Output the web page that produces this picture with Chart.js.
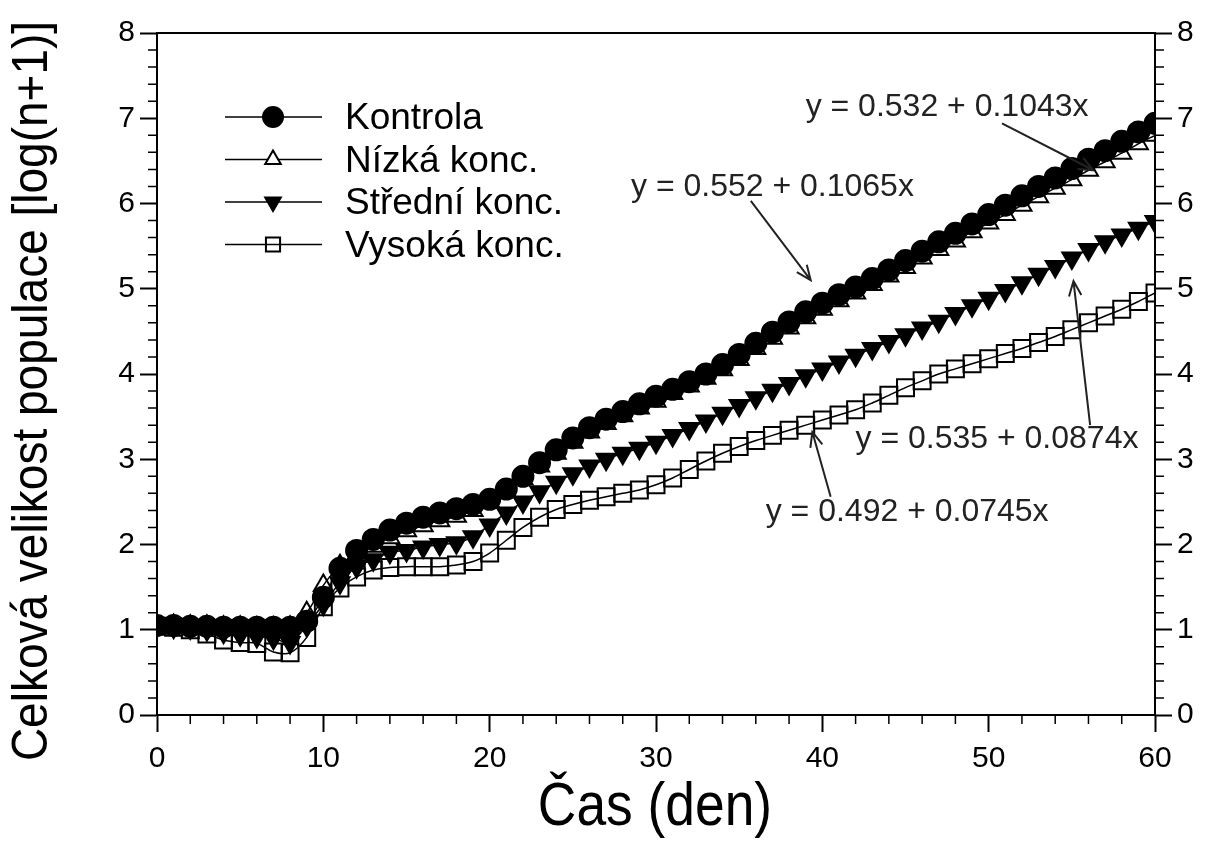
<!DOCTYPE html>
<html>
<head>
<meta charset="utf-8">
<script src="https://cdn.jsdelivr.net/npm/chart.js@4"></script>
<style>
  body { margin: 0; background: #fff; }
  #wrap { width: 1211px; height: 850px; position: relative; }
</style>
</head>
<body>
<div id="wrap"><canvas id="popChart"></canvas></div>
<script>
const days = [0,1,2,3,4,5,6,7,8,9,10,11,12,13,14,15,16,17,18,19,20,21,22,23,24,25,26,27,28,29,30,
  31,32,33,34,35,36,37,38,39,40,41,42,43,44,45,46,47,48,49,50,51,52,53,54,55,56,57,58,59,60];

const kontrola = [1.05,1.05,1.04,1.04,1.03,1.03,1.03,1.03,1.03,
  1.10,1.38,1.72,1.93,2.06,2.17,2.25,2.32,2.37,2.42,2.47,2.53,
  2.65,2.80,2.96,3.11,3.25,3.37,3.47,3.56,3.65,3.74,
  3.82,3.91,4.00,4.11,4.23,4.36,4.49,4.61,4.73,4.83,
  4.93,5.02,5.12,5.22,5.33,5.44,5.55,5.65,5.76,5.87,
  5.98,6.09,6.20,6.30,6.41,6.52,6.62,6.73,6.84,6.94];
const nizka = [1.05,1.05,1.04,1.04,1.03,1.03,1.02,1.02,1.03,
  1.20,1.52,1.75,1.88,1.98,2.08,2.16,2.22,2.28,2.33,2.40,2.50,
  2.62,2.77,2.92,3.07,3.20,3.32,3.42,3.51,3.60,3.68,
  3.77,3.86,3.95,4.05,4.17,4.30,4.42,4.54,4.66,4.76,
  4.86,4.95,5.05,5.15,5.25,5.36,5.46,5.56,5.67,5.77,
  5.87,5.98,6.08,6.18,6.28,6.39,6.49,6.59,6.70,6.80];
const stredni = [1.04,1.03,1.02,1.00,0.97,0.94,0.92,0.90,0.85,
  1.05,1.30,1.55,1.74,1.82,1.91,1.93,1.97,2.00,2.02,2.09,2.23,
  2.37,2.50,2.62,2.73,2.83,2.92,3.00,3.07,3.13,3.20,
  3.28,3.36,3.45,3.54,3.63,3.72,3.81,3.89,3.98,4.06,
  4.14,4.22,4.30,4.38,4.46,4.54,4.62,4.71,4.80,4.89,
  4.98,5.07,5.17,5.26,5.36,5.46,5.55,5.63,5.71,5.79];
const vysoka = [1.04,1.03,1.00,0.95,0.88,0.85,0.84,0.74,0.73,
  0.91,1.27,1.49,1.62,1.70,1.73,1.74,1.74,1.74,1.76,1.80,1.90,
  2.05,2.20,2.32,2.41,2.47,2.52,2.56,2.60,2.64,2.70,
  2.78,2.88,2.98,3.07,3.15,3.22,3.28,3.34,3.40,3.46,
  3.52,3.58,3.66,3.75,3.84,3.92,4.00,4.06,4.12,4.18,
  4.24,4.30,4.37,4.44,4.52,4.60,4.68,4.76,4.85,4.95];

const seriesNames = ['Kontrola', 'Nízká konc.', 'Střední konc.', 'Vysoká konc.'];
const xTicks = [0, 10, 20, 30, 40, 50, 60];
const yTicks = [0, 1, 2, 3, 4, 5, 6, 7, 8];
const xTitle = 'Čas (den)';
const yTitle = 'Celková velikost populace [log(n+1)]';

// regression labels with arrows (data coordinates)
const fitLabels = ['y = 0.532 + 0.1043x', 'y = 0.552 + 0.1065x', 'y = 0.535 + 0.0874x', 'y = 0.492 + 0.0745x'];
const fitLabelPos = [[47.5, 7.13], [37.0, 6.19], [50.5, 3.24], [45.1, 2.38]];
const fitArrows = [[50.8, 6.94, 56.3, 6.39], [35.7, 6.03, 39.3, 5.10], [56.1, 3.40, 55.1, 5.09], [40.5, 2.56, 39.4, 3.32]];

const FONT = '"Liberation Sans", Arial, sans-serif';

function pts(vals) {
  return days.map((d, i) => ({ x: d, y: vals[i] }));
}

const styles = [
  { pointStyle: 'circle', radius: 10.5, rotation: 0, fill: '#000' },
  { pointStyle: 'triangle', radius: 11, rotation: 0, fill: 'rgba(0,0,0,0)' },
  { pointStyle: 'triangle', radius: 11, rotation: 180, fill: '#000' },
  { pointStyle: 'rect', radius: 12, rotation: 0, fill: 'rgba(0,0,0,0)' }
];

const allData = [kontrola, nizka, stredni, vysoka];

function drawMarker(ctx, st, x, y, r) {
  ctx.save();
  ctx.translate(x, y);
  ctx.rotate(st.rotation * Math.PI / 180);
  ctx.beginPath();
  if (st.pointStyle === 'circle') {
    ctx.arc(0, 0, r, 0, Math.PI * 2);
  } else if (st.pointStyle === 'triangle') {
    ctx.moveTo(0, -r);
    ctx.lineTo(r * Math.sin(Math.PI / 3), r * 0.5);
    ctx.lineTo(-r * Math.sin(Math.PI / 3), r * 0.5);
    ctx.closePath();
  } else {
    ctx.rect(-r * 0.707, -r * 0.707, r * 1.414, r * 1.414);
  }
  ctx.fillStyle = st.fill === '#000' ? '#000' : '#fff';
  ctx.fill();
  ctx.lineWidth = 2;
  ctx.strokeStyle = '#000';
  ctx.stroke();
  ctx.restore();
}

const extrasPlugin = {
  id: 'extras',
  afterDraw(chart) {
    const ctx = chart.ctx;
    const ca = chart.chartArea;
    const xs = chart.scales.x, ys = chart.scales.y;
    ctx.save();
    // top border
    ctx.strokeStyle = '#000';
    ctx.lineWidth = 2;
    ctx.beginPath();
    ctx.moveTo(ca.left - 1, ca.top);
    ctx.lineTo(ca.right + 1, ca.top);
    ctx.stroke();
    // minor ticks
    ctx.lineWidth = 1.5;
    ctx.beginPath();
    for (let d = 2; d < 60; d += 2) {
      if (d % 10 === 0) continue;
      const px = xs.getPixelForValue(d);
      ctx.moveTo(px, ca.bottom);
      ctx.lineTo(px, ca.bottom + 9);
    }
    for (let k = 1; k < 40; k++) {
      if (k % 5 === 0) continue;
      const py = ys.getPixelForValue(k / 5);
      ctx.moveTo(ca.left, py);
      ctx.lineTo(ca.left - 9, py);
      ctx.moveTo(ca.right, py);
      ctx.lineTo(ca.right + 9, py);
    }
    ctx.stroke();

    // axis titles (slightly stretched glyphs like the original)
    ctx.fillStyle = '#000';
    ctx.textAlign = 'center';
    ctx.textBaseline = 'middle';
    ctx.save();
    ctx.translate((ca.left + ca.right) / 2 - 1, 808);
    ctx.scale(0.92, 1.05);
    ctx.font = '58px ' + FONT;
    ctx.fillText(xTitle, 0, 0);
    ctx.restore();
    ctx.save();
    ctx.translate(33, (ca.top + ca.bottom) / 2 + 17);
    ctx.rotate(-Math.PI / 2);
    ctx.scale(1.0, 1.1);
    ctx.font = '46px ' + FONT;
    ctx.fillText(yTitle, 0, 0);
    ctx.restore();

    // regression labels
    ctx.fillStyle = '#222';
    ctx.font = '32px ' + FONT;
    fitLabels.forEach((t, i) => {
      ctx.fillText(t, xs.getPixelForValue(fitLabelPos[i][0]), ys.getPixelForValue(fitLabelPos[i][1]));
    });
    // arrows
    ctx.strokeStyle = '#222';
    ctx.lineWidth = 2;
    fitArrows.forEach(a => {
      const x1 = xs.getPixelForValue(a[0]), y1 = ys.getPixelForValue(a[1]);
      const x2 = xs.getPixelForValue(a[2]), y2 = ys.getPixelForValue(a[3]);
      const ang = Math.atan2(y2 - y1, x2 - x1);
      ctx.beginPath();
      ctx.moveTo(x1, y1);
      ctx.lineTo(x2, y2);
      ctx.moveTo(x2 - 16 * Math.cos(ang - 0.4), y2 - 16 * Math.sin(ang - 0.4));
      ctx.lineTo(x2, y2);
      ctx.lineTo(x2 - 16 * Math.cos(ang + 0.4), y2 - 16 * Math.sin(ang + 0.4));
      ctx.stroke();
    });

    // legend
    const lx = ca.left + 68, ly = ca.top + 84;
    ctx.font = '37px ' + FONT;
    ctx.textAlign = 'left';
    seriesNames.forEach((name, i) => {
      const y = ly + i * 42.5;
      ctx.strokeStyle = '#000';
      ctx.lineWidth = 1.5;
      ctx.beginPath();
      ctx.moveTo(lx, y);
      ctx.lineTo(lx + 97, y);
      ctx.stroke();
      const r = i === 0 ? 10 : (i === 3 ? 10 : 9);
      drawMarker(ctx, styles[i], lx + 48, y, r);
      if (i === 3) {
        ctx.beginPath();
        ctx.moveTo(lx + 40, y);
        ctx.lineTo(lx + 56, y);
        ctx.stroke();
      }
      ctx.fillStyle = '#000';
      ctx.fillText(name, lx + 120, y + 2);
    });
    ctx.restore();
  }
};

const axisCommon = {
  type: 'linear',
  grid: { display: true, drawOnChartArea: false, drawTicks: true, tickLength: 17, tickWidth: 2, tickColor: '#000' },
  border: { display: true, color: '#000', width: 2 }
};

new Chart(document.getElementById('popChart'), {
  type: 'line',
  data: {
    datasets: allData.map((vals, i) => ({
      label: seriesNames[i],
      data: pts(vals),
      borderColor: '#000',
      borderWidth: 1.5,
      tension: 0.35,
      pointStyle: styles[i].pointStyle,
      pointRadius: styles[i].radius,
      pointRotation: styles[i].rotation,
      pointBackgroundColor: styles[i].fill,
      pointBorderColor: '#000',
      pointBorderWidth: 2,
      fill: false
    }))
  },
  options: {
    responsive: true,
    maintainAspectRatio: false,
    animation: false,
    layout: { padding: { top: 33, left: 0, right: 0, bottom: 0 } },
    plugins: { legend: { display: false }, tooltip: { enabled: false } },
    scales: {
      x: Object.assign({}, axisCommon, {
        position: 'bottom', min: 0, max: 60,
        afterBuildTicks: s => { s.ticks = xTicks.map(v => ({ value: v })); },
        ticks: { color: '#000', font: { family: FONT, size: 30 }, padding: 9, maxRotation: 0 },
        afterFit: s => { s.height = 135; }
      }),
      y: Object.assign({}, axisCommon, {
        position: 'left', min: 0, max: 8,
        afterBuildTicks: s => { s.ticks = yTicks.map(v => ({ value: v })); },
        ticks: { color: '#000', font: { family: FONT, size: 30 }, padding: 5 },
        afterFit: s => { s.width = 157; }
      }),
      y2: Object.assign({}, axisCommon, {
        position: 'right', min: 0, max: 8,
        afterBuildTicks: s => { s.ticks = yTicks.map(v => ({ value: v })); },
        ticks: { color: '#000', font: { family: FONT, size: 30 }, padding: 5 },
        afterFit: s => { s.width = 56; }
      })
    }
  },
  plugins: [extrasPlugin]
});
</script>
</body>
</html>
